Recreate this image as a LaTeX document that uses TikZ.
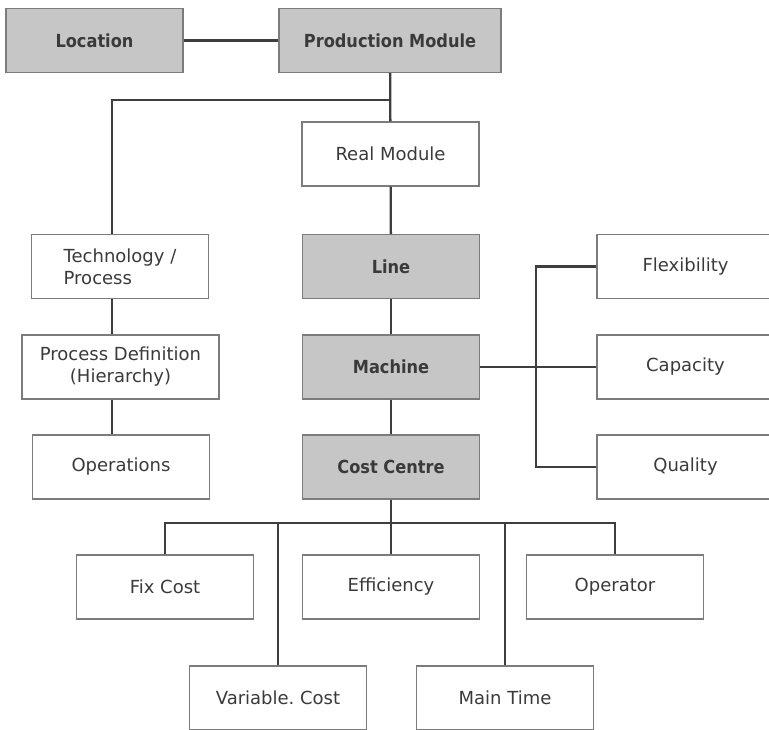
\documentclass[tikz,border=0pt]{standalone}
\usepackage{fontspec}
\setmainfont{DejaVu Sans}
\newfontfamily\keyfont{DejaVu Sans Condensed}
\frenchspacing
\definecolor{boxgray}{HTML}{C6C6C6}
\definecolor{framegray}{HTML}{7C7C7C}
\definecolor{linkgray}{HTML}{3E3E3E}
\definecolor{textgray}{HTML}{3A3A3A}
\tikzset{
  box/.style={draw=framegray,line width=1.1pt,minimum width=177pt,minimum height=64pt,inner sep=0pt,text=textgray,align=center,font=\fontsize{18}{22}\selectfont},
  keybox/.style={box,fill=boxgray,font=\keyfont\fontsize{18}{21}\selectfont\bfseries},
  link/.style={draw=linkgray,line width=2.3pt}
}
\begin{document}
\begin{tikzpicture}[x=1pt,y=-1pt]
\clip(0,0)rectangle(769,729);
% top row
\node[keybox](loc)at(94.5,40.5){Location};
\node[keybox,minimum width=222pt](pm)at(390,40.5){Production Module};
% middle column
\node[box](real)at(390.5,154){Real Module};
\node[keybox](line)at(391,266.5){Line};
\node[keybox](mach)at(391,367){Machine};
\node[keybox](cc)at(391,467){Cost Centre};
% left column
\node[box,align=left](tech)at(120,266.5){Technology /\\Process};
\node[box,minimum width=197pt](pdef)at(120.5,367){Process Definition\\(Hierarchy)};
\node[box](ops)at(121,467){Operations};
% right column
\node[box](flex)at(685.5,266.5){Flexibility};
\node[box](cap)at(685.5,367){Capacity};
\node[box](qual)at(685.5,467){Quality};
% bottom rows
\node[box](fix)at(165,587){Fix Cost};
\node[box](eff)at(391,587){Efficiency};
\node[box](oper)at(615,587){Operator};
\node[box](var)at(278,698){Variable. Cost};
\node[box](main)at(505,698){Main Time};
\coordinate(tj)at(112,100);
\coordinate(rb)at(536,367);
\coordinate(bb)at(391,523);
% connectors
\draw[link](loc)--(pm);
\draw[link](pm)--(real);
\draw[link](pm.south|-tj)--(tj)--(tj|-tech.north);
\draw[link](tech.south-|tj)--(pdef.north-|tj);
\draw[link](pdef.south-|tj)--(ops.north-|tj);
\draw[link](real)--(line);
\draw[link](line)--(mach);
\draw[link](mach)--(cc);
\draw[link](mach)--(cap);
\draw[link](flex.west)--(flex.west-|rb)--(qual.west-|rb)--(qual.west);
\draw[link](cc)--(bb);
\draw[link](fix.north)--(fix|-bb)--(oper|-bb)--(oper.north);
\draw[link](bb)--(eff);
\draw[link](var.north)--(var|-bb);
\draw[link](main.north)--(main|-bb);
\end{tikzpicture}
\end{document}
